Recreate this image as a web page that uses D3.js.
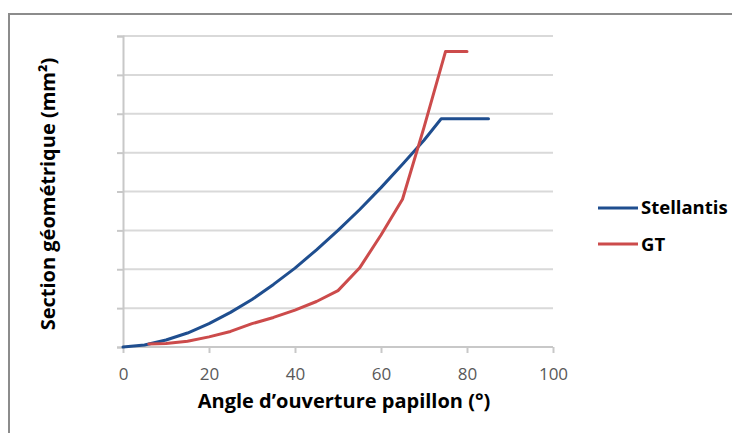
<!DOCTYPE html>
<html>
<head>
<meta charset="utf-8">
<script src="https://cdn.jsdelivr.net/npm/d3@7"></script>
<style>
  html, body { margin: 0; padding: 0; background: #ffffff; }
  svg { display: block; }
</style>
</head>
<body>
<script>
// Throttle opening angle (°) against geometric section, in gridline units
const stellantisAngle = [0, 5, 10, 15, 20, 25, 30, 35, 40, 45, 50, 55, 60, 65, 70, 74, 85];
const stellantisSection = [0, 0.05, 0.18, 0.36, 0.6, 0.89, 1.22, 1.61, 2.03, 2.5, 3.0, 3.53, 4.1, 4.7, 5.32, 5.87, 5.87];

const gtAngle = [6, 10, 15, 20, 25, 30, 35, 40, 45, 50, 55, 60, 65, 70, 75, 80];
const gtSection = [0.08, 0.09, 0.15, 0.26, 0.4, 0.6, 0.76, 0.95, 1.17, 1.45, 2.03, 2.88, 3.8, 5.65, 7.6, 7.6];

const xTicks = [0, 20, 40, 60, 80, 100];
const yTicks = [0, 1, 2, 3, 4, 5, 6, 7, 8];

const seriesNames = ["Stellantis", "GT"];
const seriesColors = ["#1f4e8f", "#cc4b4b"];

const W = 732, H = 433;
const FONT = "'Open Sans', sans-serif";
const svg = d3.select("body").append("svg").attr("width", W).attr("height", H);

// chart frame
svg.append("path")
  .attr("d", `M9,${H} V14 H${W}`)
  .attr("fill", "none").attr("stroke", "#8c8c8c").attr("stroke-width", 2);

const x = d3.scaleLinear().domain([0, 100]).range([123, 553]);
const y = d3.scaleLinear().domain([0, 8]).range([347, 36]);

// horizontal gridlines
svg.append("g").selectAll("line").data(yTicks.filter(d => d > 0)).join("line")
  .attr("x1", x(0)).attr("x2", x(100))
  .attr("y1", d => y(d)).attr("y2", d => y(d))
  .attr("stroke", "#d9d9d9").attr("stroke-width", 2);

// y axis (ticks only, no labels)
const yAxis = svg.append("g").attr("transform", `translate(${x(0)},0)`)
  .call(d3.axisLeft(y).tickValues(yTicks).tickSize(6).tickFormat(""));
yAxis.select(".domain").attr("stroke", "#c8c8c8").attr("stroke-width", 2);
yAxis.selectAll(".tick line").attr("stroke", "#c8c8c8").attr("stroke-width", 2);

// x axis
const xAxis = svg.append("g").attr("transform", `translate(0,${y(0)})`)
  .call(d3.axisBottom(x).tickValues(xTicks).tickSize(6).tickPadding(15));
xAxis.select(".domain").attr("stroke", "#c8c8c8").attr("stroke-width", 2)
  .attr("d", `M${x(0)},0H${x(100)}`);
xAxis.selectAll(".tick line").attr("stroke", "#c8c8c8").attr("stroke-width", 2);
xAxis.selectAll(".tick text")
  .attr("fill", "#595959")
  .style("font-family", FONT)
  .style("font-size", "17px");

// series lines
const line = d3.line().x(d => x(d[0])).y(d => y(d[1]));
const series = [
  d3.zip(stellantisAngle, stellantisSection),
  d3.zip(gtAngle, gtSection)
];
series.forEach((pts, i) => {
  svg.append("path").datum(pts)
    .attr("d", line)
    .attr("fill", "none")
    .attr("stroke", seriesColors[i])
    .attr("stroke-width", 3)
    .attr("stroke-linejoin", "round")
    .attr("stroke-linecap", "round");
});

// axis titles
svg.append("text")
  .attr("x", 344).attr("y", 408)
  .attr("text-anchor", "middle")
  .style("font-family", FONT)
  .style("font-weight", "bold").style("font-size", "20px")
  .attr("fill", "#000")
  .text("Angle d’ouverture papillon (°)");

svg.append("text")
  .attr("transform", "translate(55,194) rotate(-90)")
  .attr("text-anchor", "middle")
  .style("font-family", FONT)
  .style("font-weight", "bold").style("font-size", "20px")
  .attr("fill", "#000")
  .text("Section géométrique (mm²)");

// legend
const legend = svg.append("g");
const legendY = [208, 244];
const legendBaseline = [214, 251];
seriesNames.forEach((name, i) => {
  legend.append("line")
    .attr("x1", 598).attr("x2", 638)
    .attr("y1", legendY[i]).attr("y2", legendY[i])
    .attr("stroke", seriesColors[i]).attr("stroke-width", 3);
  legend.append("text")
    .attr("x", 641).attr("y", legendBaseline[i])
    .style("font-family", FONT)
    .style("font-weight", "bold").style("font-size", "18.5px")
    .attr("fill", "#000")
    .text(name);
});
</script>
</body>
</html>
